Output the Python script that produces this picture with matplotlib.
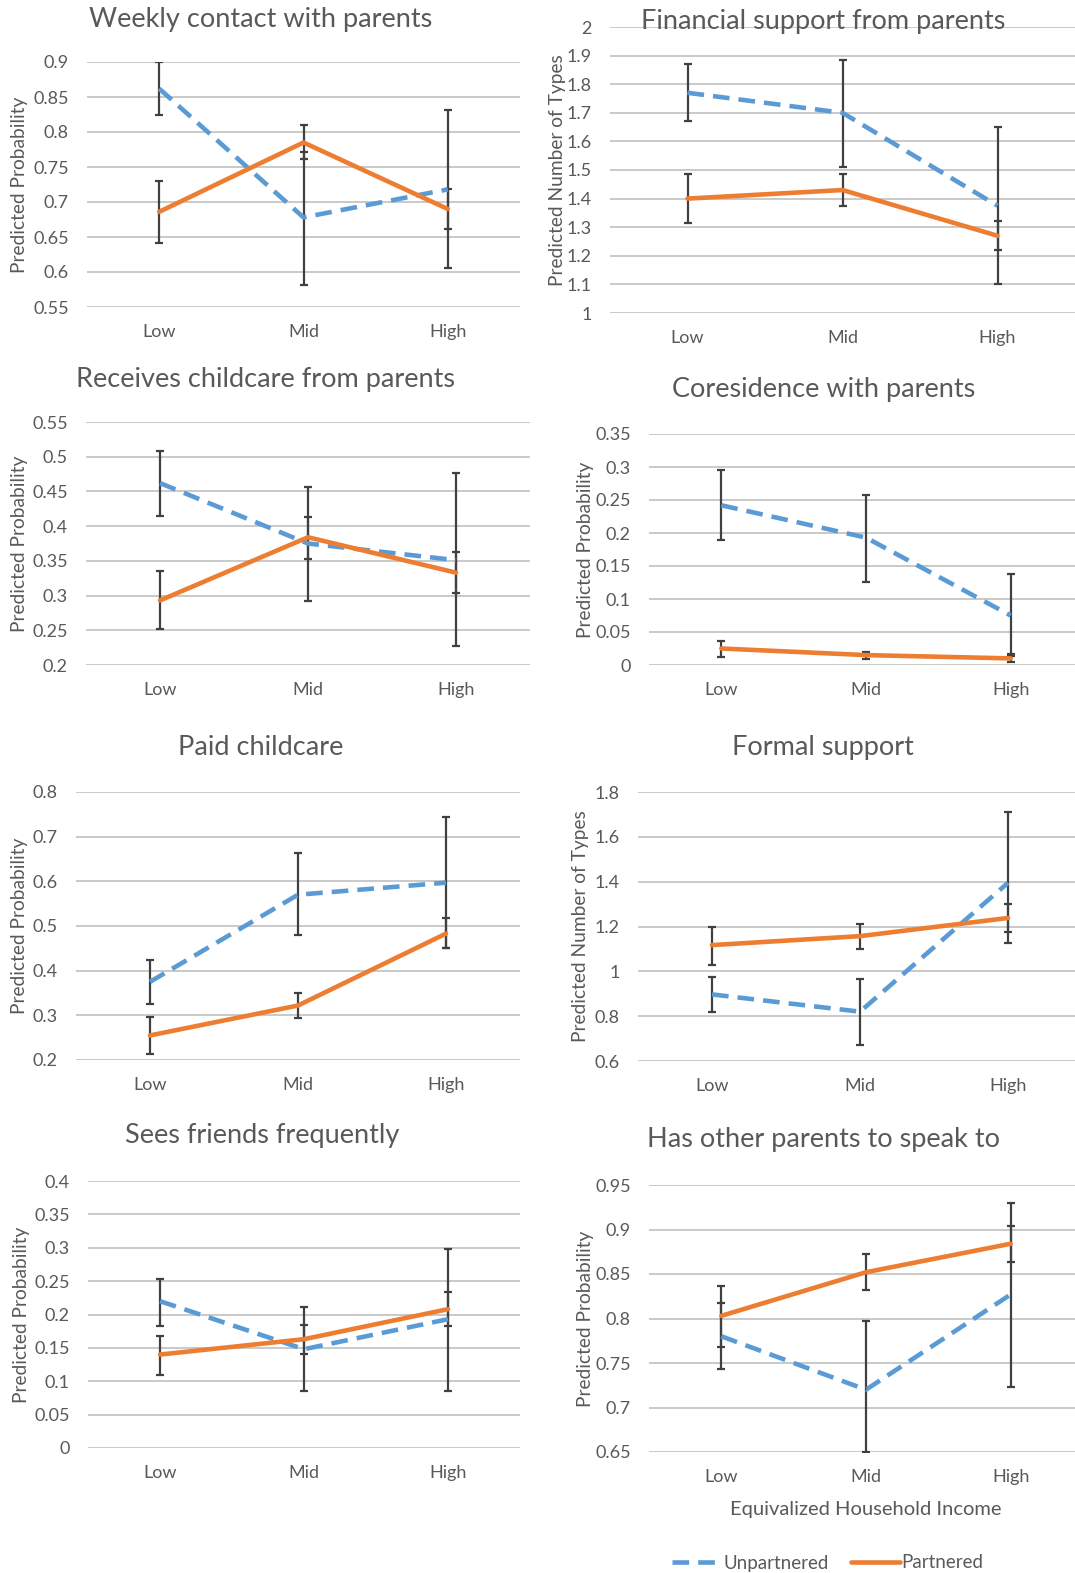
import matplotlib
matplotlib.use('Agg')
import matplotlib.pyplot as plt
import numpy as np

plt.rcParams['font.family'] = ['Lato', 'DejaVu Sans']
plt.rcParams['lines.scale_dashes'] = False

# Data (means and error bar bounds)
categories = ['Low', 'Mid', 'High']
titles = ['Weekly contact with parents', 'Financial support from parents',
          'Receives childcare from parents', 'Coresidence with parents',
          'Paid childcare', 'Formal support',
          'Sees friends frequently', 'Has other parents to speak to']
ylabels = ['Predicted Probability', 'Predicted Number of Types',
           'Predicted Probability', 'Predicted Probability',
           'Predicted Probability', 'Predicted Number of Types',
           'Predicted Probability', 'Predicted Probability']

unp_mean = [[0.862, 0.678, 0.718],
            [1.77, 1.70, 1.375],
            [0.462, 0.375, 0.351],
            [0.242, 0.193, 0.075],
            [0.375, 0.570, 0.597],
            [0.897, 0.820, 1.395],
            [0.220, 0.148, 0.193],
            [0.780, 0.720, 0.827]]
unp_low = [[0.825, 0.581, 0.606],
           [1.67, 1.51, 1.10],
           [0.415, 0.292, 0.227],
           [0.190, 0.126, 0.013],
           [0.325, 0.480, 0.450],
           [0.820, 0.670, 1.125],
           [0.183, 0.086, 0.085],
           [0.743, 0.650, 0.723]]
unp_high = [[0.900, 0.772, 0.832],
            [1.87, 1.885, 1.65],
            [0.508, 0.457, 0.477],
            [0.295, 0.258, 0.138],
            [0.423, 0.663, 0.745],
            [0.975, 0.965, 1.710],
            [0.253, 0.211, 0.298],
            [0.817, 0.797, 0.930]]

par_mean = [[0.686, 0.785, 0.690],
            [1.40, 1.43, 1.27],
            [0.293, 0.384, 0.333],
            [0.025, 0.015, 0.010],
            [0.255, 0.322, 0.483],
            [1.117, 1.157, 1.238],
            [0.140, 0.163, 0.208],
            [0.803, 0.852, 0.884]]
par_low = [[0.642, 0.762, 0.662],
           [1.315, 1.375, 1.22],
           [0.252, 0.353, 0.304],
           [0.012, 0.009, 0.004],
           [0.213, 0.295, 0.450],
           [1.030, 1.100, 1.175],
           [0.110, 0.141, 0.183],
           [0.768, 0.832, 0.864]]
par_high = [[0.730, 0.810, 0.718],
            [1.485, 1.485, 1.320],
            [0.336, 0.413, 0.363],
            [0.037, 0.020, 0.016],
            [0.297, 0.350, 0.517],
            [1.200, 1.213, 1.300],
            [0.168, 0.185, 0.233],
            [0.837, 0.873, 0.904]]

y_min = [0.55, 1.0, 0.2, 0.0, 0.2, 0.6, 0.0, 0.65]
y_max = [0.9, 2.0, 0.55, 0.35, 0.8, 1.8, 0.4, 0.95]
y_step = [0.05, 0.1, 0.05, 0.05, 0.1, 0.2, 0.05, 0.05]

# Layout in pixels: plot left, right, top, bottom, title x/y, ylabel x
W, H = 1075, 1573
boxes = [(87, 520, 62, 307, 261, 20, 28),
         (610, 1075, 27, 313, 823, 22, 566),
         (86, 530, 422, 665, 266, 379, 28),
         (649, 1083, 434, 665, 824, 390, 594),
         (76, 520, 792, 1060, 261, 747, 28),
         (638, 1082, 792, 1061, 823, 747, 589),
         (88, 520, 1181, 1448, 262, 1136, 30),
         (649, 1083, 1185, 1452, 824, 1139, 594)]

blue = '#5B9BD5'
orange = '#ED7D31'
grey = '#595959'
ebar = '#404040'

fig = plt.figure(figsize=(W / 100, H / 100), dpi=100)

x = np.arange(len(categories))
for i in range(8):
    l, r, t, b, tx, ty, lx = boxes[i]
    ax = fig.add_axes([l / W, 1 - b / H, (r - l) / W, (b - t) / H])
    ax.set_xlim(-0.5, 2.5)
    ax.set_ylim(y_min[i], y_max[i])
    ticks = np.round(np.arange(y_min[i], y_max[i] + y_step[i] / 2, y_step[i]), 2)
    ax.set_yticks(ticks)
    ax.set_yticklabels([f'{v:g}' for v in ticks])
    ax.set_xticks(x)
    ax.set_xticklabels(categories)
    ax.tick_params(length=0, colors=grey, labelsize=13)
    ax.tick_params(axis='y', pad=13)
    ax.tick_params(axis='x', pad=12)
    for s in ax.spines.values():
        s.set_visible(False)
    ax.yaxis.grid(True, color='#c9c9c9', linewidth=1.4)
    ax.set_axisbelow(True)

    um = np.array(unp_mean[i])
    pm = np.array(par_mean[i])
    ax.errorbar(x, um, yerr=[um - np.array(unp_low[i]), np.array(unp_high[i]) - um],
                fmt='none', ecolor=ebar, elinewidth=1.6, capsize=3, capthick=1.6, zorder=3)
    ax.errorbar(x, pm, yerr=[pm - np.array(par_low[i]), np.array(par_high[i]) - pm],
                fmt='none', ecolor=ebar, elinewidth=1.6, capsize=3, capthick=1.6, zorder=3)
    ax.plot(x, um, color=blue, linewidth=3.3, dashes=(12, 6.5), label='Unpartnered', zorder=4)
    ax.plot(x, pm, color=orange, linewidth=3.3, solid_capstyle='round', label='Partnered', zorder=5)

    ax.set_ylabel(ylabels[i], color=grey, fontsize=13.8)
    ax.yaxis.set_label_coords(-(l - lx) / (r - l), 0.5)

    fig.text(tx / W, 1 - ty / H, titles[i], ha='center', va='center',
             fontsize=19.5, color=grey)

    if i == 7:
        ax.set_xlabel('Equivalized Household Income', color=grey, fontsize=14.5, labelpad=12)
        handles, labels = ax.get_legend_handles_labels()

fig.legend(handles, labels, loc='center', bbox_to_anchor=(828 / W, 1 - 1563 / H),
           ncol=2, frameon=False, fontsize=13.5, labelcolor=grey,
           handlelength=2.6, handletextpad=0.1, columnspacing=1.2)

plt.savefig('out.png', dpi=100)
plt.close()
